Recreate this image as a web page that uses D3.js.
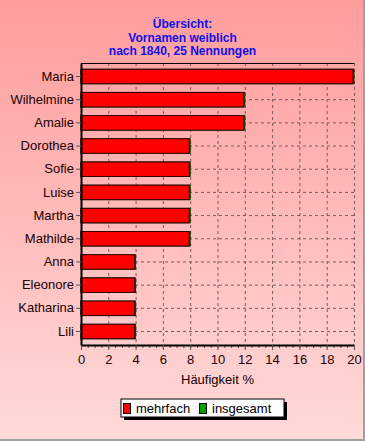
<html>
<head>
<script src="https://d3js.org/d3.v7.min.js"></script>
<style>
  body { margin: 0; }
  text { font-family: Arial, "Liberation Sans", sans-serif; }
  .grid line { stroke: #7a5a5a; stroke-dasharray: 3,3; }
  .grid .domain { stroke: none; }
</style>
</head>
<body>
<svg id="chart" width="365" height="441"></svg>
<script>
const names = ['Maria', 'Wilhelmine', 'Amalie', 'Dorothea', 'Sofie', 'Luise',
               'Martha', 'Mathilde', 'Anna', 'Eleonore', 'Katharina', 'Lili'];
const mehrfach = [20, 12, 12, 8, 8, 8, 8, 8, 4, 4, 4, 4];
const insgesamt = [20, 12, 12, 8, 8, 8, 8, 8, 4, 4, 4, 4];
const titleLines = ['Übersicht:', 'Vornamen weiblich', 'nach 1840, 25 Nennungen'];
const xTicks = [0, 2, 4, 6, 8, 10, 12, 14, 16, 18, 20];
const legendLabels = ['mehrfach', 'insgesamt'];
const legendColors = ['#ff0000', '#00a000'];

const svg = d3.select('svg#chart');
const width = +svg.attr('width');
const height = +svg.attr('height');
const margins = {top: 63, right: 11, bottom: 96, left: 81};
const chartWidth = width - margins.left - margins.right;
const chartHeight = height - margins.top - margins.bottom;

// background gradient
let defs = svg.append('defs');
let grad = defs.append('linearGradient').attr('id', 'bg')
  .attr('x1', 0).attr('y1', 0).attr('x2', 0).attr('y2', 1);
grad.append('stop').attr('offset', '0%').attr('stop-color', '#ff9c9c');
grad.append('stop').attr('offset', '100%').attr('stop-color', '#ffdada');

svg.append('rect').attr('width', width).attr('height', height).attr('fill', 'url(#bg)');
svg.append('line').attr('x1', width - 1).attr('x2', width - 1).attr('y1', 0).attr('y2', height)
  .attr('stroke', '#a0a0a0').attr('stroke-width', 2);
svg.append('line').attr('x1', 0).attr('x2', width).attr('y1', height - 1).attr('y2', height - 1)
  .attr('stroke', '#a0a0a0').attr('stroke-width', 2);

// title
svg.append('text')
  .attr('x', width / 2).attr('y', 28)
  .attr('text-anchor', 'middle')
  .attr('fill', '#1010e8')
  .style('font-weight', 'bold').style('font-size', '12px')
  .selectAll('tspan').data(titleLines).join('tspan')
  .attr('x', width / 2).attr('dy', (d, i) => i == 0 ? 0 : 13.5)
  .text(d => d);

const xScale = d3.scaleLinear().domain([0, 20]).range([0, chartWidth]);
const yScale = d3.scaleBand().domain(names).range([0, chartHeight])
  .paddingInner(0.375).paddingOuter(0.27);

let chart = svg.append('g')
  .attr('transform', `translate(${margins.left},${margins.top})`);

// gridlines
chart.append('g').attr('class', 'grid')
  .call(d3.axisBottom(xScale).tickValues(xTicks).tickSize(chartHeight).tickFormat(''));
chart.append('g').attr('class', 'grid')
  .selectAll('line').data(names).join('line')
  .attr('x1', 0).attr('x2', chartWidth)
  .attr('y1', d => yScale(d) + yScale.bandwidth() / 2)
  .attr('y2', d => yScale(d) + yScale.bandwidth() / 2);

// top border
chart.append('line').attr('x1', 0).attr('x2', chartWidth).attr('y1', 0.5).attr('y2', 0.5)
  .attr('stroke', '#000');

// bars: insgesamt behind, mehrfach on top
chart.selectAll('rect.ins').data(names).join('rect')
  .attr('class', 'ins')
  .attr('x', 0).attr('y', d => yScale(d))
  .attr('width', (d, i) => xScale(insgesamt[i]))
  .attr('height', yScale.bandwidth())
  .attr('fill', '#008000').attr('stroke', '#004000');
chart.selectAll('rect.meh').data(names).join('rect')
  .attr('class', 'meh')
  .attr('x', 0).attr('y', d => yScale(d))
  .attr('width', (d, i) => xScale(mehrfach[i]) - 1)
  .attr('height', yScale.bandwidth())
  .attr('fill', '#ff0000').attr('stroke', '#300000');

// y axis
let yAxis = chart.append('g').call(d3.axisLeft(yScale).tickSize(5).tickSizeOuter(0));
yAxis.select('.domain').attr('stroke', '#000').attr('stroke-width', 2);
yAxis.selectAll('text').attr('fill', '#200000').style('font-size', '13px').attr('x', -7);
yAxis.selectAll('line').attr('stroke', '#555');

// x axis minor ticks
chart.append('g').attr('transform', `translate(0,${chartHeight})`)
  .call(d3.axisBottom(xScale).ticks(40).tickSize(3).tickFormat(''))
  .call(g => g.select('.domain').remove())
  .selectAll('line').attr('stroke', '#555');

let xAxis = chart.append('g').attr('transform', `translate(0,${chartHeight})`)
  .call(d3.axisBottom(xScale).tickValues(xTicks).tickSize(5).tickSizeOuter(0));
xAxis.select('.domain').attr('stroke', '#000').attr('stroke-width', 2);
xAxis.selectAll('line').attr('stroke', '#555');
xAxis.selectAll('text').attr('fill', '#200000').style('font-size', '13px').attr('y', 10);

svg.append('text')
  .attr('x', margins.left + chartWidth / 2).attr('y', 384)
  .attr('text-anchor', 'middle').attr('fill', '#200000').style('font-size', '13px')
  .text('Häufigkeit %');

// legend
let legend = svg.append('g').attr('transform', 'translate(121,399)');
legend.append('rect').attr('x', 3).attr('y', 3).attr('width', 163).attr('height', 18).attr('fill', '#000');
legend.append('rect').attr('x', 0).attr('y', 0).attr('width', 163).attr('height', 18)
  .attr('fill', '#fff').attr('stroke', '#000');
const legendX = [2, 78];
legendLabels.forEach((lab, i) => {
  legend.append('rect').attr('x', legendX[i] + 0.5).attr('y', 4.5).attr('width', 7).attr('height', 10)
    .attr('fill', legendColors[i]).attr('stroke', '#000');
  legend.append('text').attr('x', legendX[i] + 13).attr('y', 14)
    .attr('fill', '#000').style('font-size', '13px').text(lab);
});
</script>
</body>
</html>
